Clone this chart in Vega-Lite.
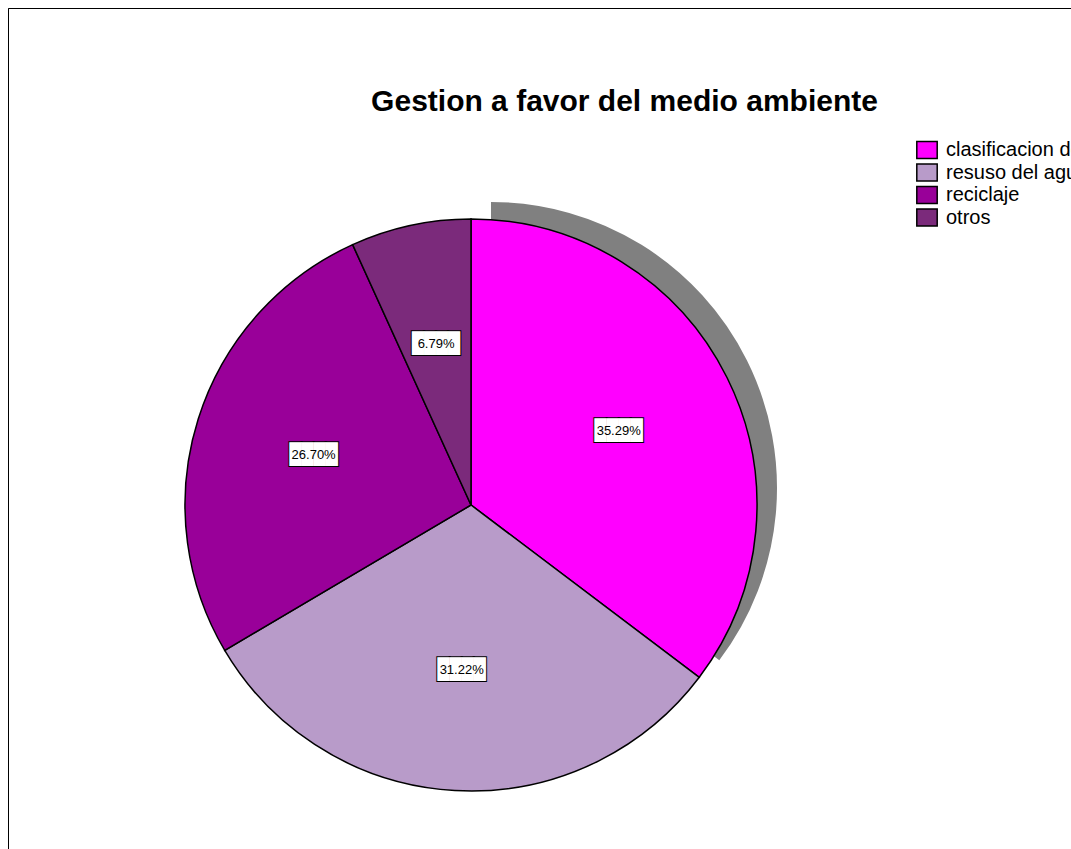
{
  "$schema": "https://vega.github.io/schema/vega-lite/v6.json",
  "width": 1063,
  "height": 994,
  "autosize": {"type": "none"},
  "padding": {"left": 8, "top": 8, "right": 0, "bottom": 0},
  "background": "white",
  "title": {
    "text": "Gestion a favor del medio ambiente",
    "font": "Liberation Sans",
    "fontSize": 30,
    "fontWeight": "bold",
    "color": "#000000",
    "anchor": "middle",
    "dx": 85,
    "dy": 113
  },
  "config": {
    "style": {"view": {"stroke": "#000000", "strokeWidth": 1, "strokeDash": [1063, 2057, 994]}}
  },
  "data": {
    "values": [
      {"idx": 1, "cat": "clasificacion de basura", "pct": 35.29, "label": "35.29%"},
      {"idx": 2, "cat": "resuso del agua", "pct": 31.22, "label": "31.22%"},
      {"idx": 3, "cat": "reciclaje", "pct": 26.70, "label": "26.70%"},
      {"idx": 4, "cat": "otros", "pct": 6.79, "label": "6.79%"}
    ]
  },
  "encoding": {
    "theta": {"field": "pct", "type": "quantitative", "stack": true},
    "order": {"field": "idx", "type": "quantitative"}
  },
  "layer": [
    {
      "transform": [{"filter": "datum.idx === 1"}],
      "mark": {"type": "arc", "radius": 286, "xOffset": -48.5, "yOffset": -17, "fill": "#808080", "strokeWidth": 0}
    },
    {
      "mark": {"type": "arc", "radius": 286, "xOffset": -68.5, "stroke": "#000000", "strokeWidth": 1.5},
      "encoding": {
        "color": {
          "field": "cat",
          "type": "nominal",
          "sort": null,
          "scale": {
            "domain": ["clasificacion de basura", "resuso del agua", "reciclaje", "otros"],
            "range": ["#FF00FF", "#B89BC9", "#990099", "#7B2A7B"]
          },
          "legend": {
            "title": null,
            "orient": "none",
            "legendX": 909,
            "legendY": 132,
            "symbolType": "M-1.2,-1H1.2V1H-1.2Z",
            "symbolSize": 289,
            "symbolStrokeColor": "#000000",
            "symbolStrokeWidth": 1.5,
            "labelFont": "Liberation Sans",
            "labelFontSize": 20,
            "labelColor": "#000000",
            "labelOffset": 9,
            "rowPadding": -1.5,
            "labelLimit": 400
          }
        }
      }
    },
    {
      "mark": {"type": "text", "radius": 165, "xOffset": -68.5, "font": "DejaVu Sans Mono", "fontSize": 20, "fill": "#000000", "stroke": "#000000", "strokeWidth": 2, "align": "center", "baseline": "middle"},
      "encoding": {"text": {"value": "████"}}
    },
    {
      "mark": {"type": "text", "radius": 165, "xOffset": -68.5, "font": "DejaVu Sans Mono", "fontSize": 20, "fill": "#FFFFFF", "align": "center", "baseline": "middle"},
      "encoding": {"text": {"value": "████"}}
    },
    {
      "mark": {"type": "text", "radius": 165, "xOffset": -68.5, "font": "Liberation Sans", "fontSize": 13, "fill": "#000000", "align": "center", "baseline": "middle"},
      "encoding": {"text": {"field": "label"}}
    }
  ]
}
